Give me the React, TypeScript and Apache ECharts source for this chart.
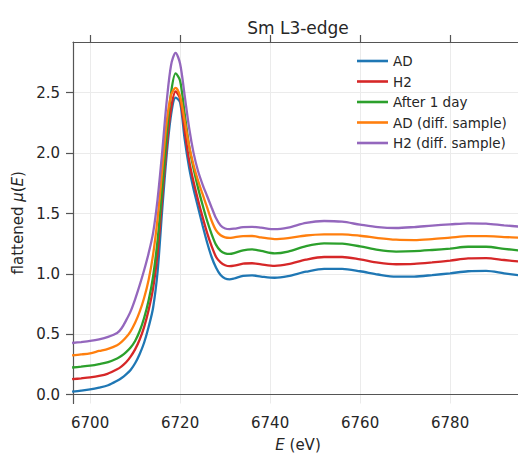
import React, { useEffect, useRef } from "react";
import * as echarts from "echarts";

const energies = [6696, 6698, 6700, 6702, 6704, 6706, 6707, 6708, 6709, 6710, 6711, 6712, 6713, 6714, 6715, 6716, 6717, 6718, 6719, 6720, 6721, 6722, 6723, 6724, 6725, 6726, 6727, 6728, 6729, 6730, 6731, 6732, 6734, 6736, 6738, 6741, 6744, 6748, 6752, 6756, 6760, 6764, 6768, 6772, 6776, 6780, 6784, 6788, 6792, 6796];

const adValues = [0.025, 0.033, 0.043, 0.058, 0.078, 0.115, 0.138, 0.168, 0.205, 0.26, 0.335, 0.43, 0.56, 0.72, 1.02, 1.52, 1.98, 2.32, 2.46, 2.42, 2.12, 1.88, 1.70, 1.55, 1.40, 1.26, 1.14, 1.05, 0.99, 0.962, 0.955, 0.962, 0.983, 0.988, 0.978, 0.968, 0.982, 1.018, 1.042, 1.042, 1.022, 0.995, 0.977, 0.978, 0.99, 1.005, 1.022, 1.025, 1.005, 0.985];

const h2Values = [0.128, 0.135, 0.143, 0.155, 0.175, 0.21, 0.235, 0.268, 0.315, 0.375, 0.455, 0.56, 0.70, 0.88, 1.17, 1.62, 2.05, 2.37, 2.51, 2.45, 2.19, 1.94, 1.76, 1.61, 1.47, 1.34, 1.23, 1.14, 1.095, 1.072, 1.064, 1.068, 1.085, 1.088, 1.078, 1.066, 1.08, 1.118, 1.14, 1.14, 1.12, 1.093, 1.08, 1.083, 1.095, 1.11, 1.128, 1.13, 1.115, 1.10];

const after1dayValues = [0.225, 0.232, 0.24, 0.253, 0.27, 0.30, 0.322, 0.352, 0.39, 0.445, 0.525, 0.635, 0.78, 0.98, 1.28, 1.70, 2.14, 2.50, 2.66, 2.60, 2.33, 2.06, 1.87, 1.71, 1.57, 1.44, 1.33, 1.24, 1.19, 1.17, 1.165, 1.172, 1.195, 1.203, 1.19, 1.17, 1.185, 1.23, 1.253, 1.25, 1.228, 1.198, 1.185, 1.188, 1.198, 1.21, 1.225, 1.225, 1.208, 1.19];

const adDiffValues = [0.325, 0.333, 0.343, 0.362, 0.38, 0.41, 0.437, 0.475, 0.525, 0.595, 0.685, 0.80, 0.95, 1.16, 1.46, 1.85, 2.25, 2.48, 2.54, 2.47, 2.27, 2.06, 1.90, 1.77, 1.66, 1.55, 1.44, 1.36, 1.32, 1.302, 1.298, 1.303, 1.312, 1.314, 1.302, 1.288, 1.297, 1.318, 1.327, 1.328, 1.316, 1.297, 1.283, 1.28, 1.288, 1.30, 1.312, 1.312, 1.305, 1.30];

const h2DiffValues = [0.428, 0.436, 0.445, 0.458, 0.478, 0.51, 0.55, 0.615, 0.69, 0.79, 0.905, 1.03, 1.17, 1.34, 1.62, 2.0, 2.42, 2.73, 2.83, 2.74, 2.48, 2.21, 2.0, 1.85, 1.74, 1.645, 1.55, 1.46, 1.40, 1.376, 1.37, 1.374, 1.387, 1.39, 1.383, 1.37, 1.384, 1.423, 1.438, 1.432, 1.408, 1.387, 1.38, 1.388, 1.40, 1.41, 1.419, 1.416, 1.402, 1.39];

const seriesNames = ["AD", "H2", "After 1 day", "AD (diff. sample)", "H2 (diff. sample)"];
const seriesColors = ["#1f77b4", "#d62728", "#2ca02c", "#ff7f0e", "#9467bd"];
const seriesValues = [adValues, h2Values, after1dayValues, adDiffValues, h2DiffValues];

const xTicks = [6700, 6720, 6740, 6760, 6780];
const yTicks = [0, 0.5, 1, 1.5, 2, 2.5];

const FONT = "DejaVu Sans";
const TEXT = "#262626";
const AXIS = "#555555";
const GRIDC = "#ebebeb";

export default function App() {
  const ref = useRef<HTMLDivElement>(null);
  useEffect(() => {
    if (!ref.current) return;
    const chart = echarts.init(ref.current, undefined, { renderer: "svg" });
    const series = seriesNames.map((name, i) => ({
      name,
      type: "line",
      data: energies.map((e, j) => [e, seriesValues[i][j]]),
      smooth: 0.3,
      symbol: "none",
      lineStyle: { width: 2.3, color: seriesColors[i] },
      itemStyle: { color: seriesColors[i] },
      z: 2 + i,
    }));
    chart.setOption({
      animation: false,
      backgroundColor: "#ffffff",
      title: {
        text: "Sm L3-edge",
        left: 293,
        top: 14,
        textAlign: "center",
        textStyle: { fontFamily: FONT, fontSize: 17, fontWeight: "normal", color: TEXT },
      },
      legend: {
        left: 352,
        top: 49,
        orient: "vertical",
        icon: "rect",
        itemWidth: 31,
        itemHeight: 2.6,
        itemGap: 6.5,
        textStyle: { fontFamily: FONT, fontSize: 13.5, color: TEXT, lineHeight: 14, height: 14 },
        data: seriesNames,
      },
      grid: { left: 73, top: 42, right: -5, bottom: 49.5, outerBoundsMode: "none", containLabel: false },
      xAxis: [
        {
          type: "value",
          min: 6696.2,
          max: 6796.2,
          position: "bottom",
          name: "{i|E}{n| (eV)}",
          nameLocation: "middle",
          nameGap: 34,
          nameTextStyle: {
            rich: {
              i: { fontFamily: FONT, fontSize: 15, fontStyle: "italic", color: TEXT },
              n: { fontFamily: FONT, fontSize: 15, color: TEXT },
            },
          },
          axisLine: { show: true, lineStyle: { color: AXIS, width: 1.2 } },
          axisTick: { show: false, customValues: xTicks },
          axisLabel: {
            customValues: xTicks,
            fontFamily: FONT,
            fontSize: 15,
            color: TEXT,
            margin: 12,
            formatter: (v: number) => String(v),
          },
          splitLine: { show: true, lineStyle: { color: GRIDC, width: 1 } },
        },
        {
          type: "value",
          min: 6696.2,
          max: 6796.2,
          position: "top",
          axisLine: { show: true, lineStyle: { color: AXIS, width: 1.2 } },
          axisTick: { show: true, customValues: xTicks, length: 7, lineStyle: { color: AXIS, width: 1.2 } },
          axisLabel: { show: false },
          splitLine: { show: false },
        },
      ],
      yAxis: {
        type: "value",
        min: -0.073,
        max: 2.92,
        name: "{a|flattened }{i|μ}{a|(}{i|E}{a|)}",
        nameLocation: "middle",
        nameGap: 46,
        nameRotate: 90,
        nameTextStyle: {
          rich: {
            a: { fontFamily: FONT, fontSize: 15, color: TEXT },
            i: { fontFamily: FONT, fontSize: 15, fontStyle: "italic", color: TEXT },
          },
        },
        axisLine: { show: true, lineStyle: { color: AXIS, width: 1.2 } },
        axisTick: { show: true, customValues: yTicks, length: 7, lineStyle: { color: AXIS, width: 1.2 } },
        axisLabel: {
          customValues: yTicks,
          fontFamily: FONT,
          fontSize: 15,
          color: TEXT,
          margin: 13,
          formatter: (v: number) => v.toFixed(1),
        },
        splitLine: { show: true, lineStyle: { color: GRIDC, width: 1 } },
      },
      series,
    });
    return () => chart.dispose();
  }, []);
  return (
    <div
      ref={ref}
      style={{ position: "fixed", left: 0, top: 0, width: 518, height: 453 }}
    />
  );
}
